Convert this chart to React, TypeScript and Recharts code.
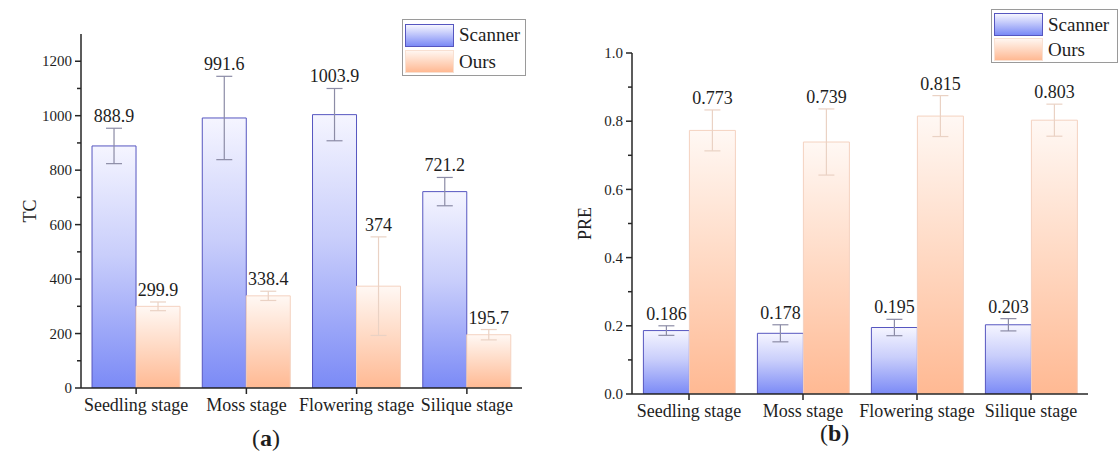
import React from "react";
import { BarChart, Bar, XAxis, YAxis, ErrorBar, LabelList } from "recharts";

const STAGES = ["Seedling stage", "Moss stage", "Flowering stage", "Silique stage"];

const TC_SCANNER = [888.9, 991.6, 1003.9, 721.2];
const TC_SCANNER_ERR = [65, 153, 96, 52];
const TC_OURS = [299.9, 338.4, 374, 195.7];
const TC_OURS_ERR = [16, 17, 181, 19];
const TC_TICKS = [0, 100, 200, 300, 400, 500, 600, 700, 800, 900, 1000, 1100, 1200];

const PRE_SCANNER = [0.186, 0.178, 0.195, 0.203];
const PRE_SCANNER_ERR = [0.014, 0.025, 0.024, 0.018];
const PRE_OURS = [0.773, 0.739, 0.815, 0.803];
const PRE_OURS_ERR = [0.06, 0.097, 0.06, 0.047];
const PRE_TICKS = [0, 0.1, 0.2, 0.3, 0.4, 0.5, 0.6, 0.7, 0.8, 0.9, 1.0];

const FONT = '"Liberation Serif", "Times New Roman", serif';
const AXIS = "#262626";
const SCANNER_EDGE = "#5656c0";
const OURS_EDGE = "#f4d2c0";

const tcRows = STAGES.map((stage, i) => ({
  stage,
  scanner: TC_SCANNER[i],
  scannerErr: TC_SCANNER_ERR[i],
  ours: TC_OURS[i],
  oursErr: TC_OURS_ERR[i],
}));

const preRows = STAGES.map((stage, i) => ({
  stage,
  scanner: PRE_SCANNER[i],
  scannerErr: PRE_SCANNER_ERR[i],
  ours: PRE_OURS[i],
  oursErr: PRE_OURS_ERR[i],
}));

// label sits just above the top of the error bar
const valueLabel = (errs: number[]) => (props: any) => {
  const vb = props.viewBox || props;
  const { x, y, width, height } = vb;
  const v = Number(props.value);
  const pxPerUnit = v ? height / v : 0;
  const top = y - errs[props.index] * pxPerUnit;
  return (
    <text
      x={x + width / 2}
      y={top - 6}
      textAnchor="middle"
      fontFamily={FONT}
      fontSize={18}
      fill="#1e1e1e"
    >
      {String(props.value)}
    </text>
  );
};

const yTick = (fmt: (v: number) => string) => (props: any) => {
  const { x, y, payload, index } = props;
  const major = index % 2 === 0;
  return (
    <g>
      <line x1={x - (major ? 6 : 4)} x2={x} y1={y} y2={y} stroke={AXIS} strokeWidth={1.5} />
      {major && (
        <text x={x - 9} y={y} dy="0.35em" textAnchor="end" fontFamily={FONT} fontSize={15} fill="#1e1e1e">
          {fmt(payload.value)}
        </text>
      )}
    </g>
  );
};

function Gradients({ id }: { id: string }) {
  return (
    <defs>
      <linearGradient id={`${id}-scanner`} x1="0" y1="0" x2="0" y2="1">
        <stop offset="0%" stopColor="#f5f5ff" />
        <stop offset="45%" stopColor="#c9cefb" />
        <stop offset="100%" stopColor="#7b8af6" />
      </linearGradient>
      <linearGradient id={`${id}-ours`} x1="0" y1="0" x2="0" y2="1">
        <stop offset="0%" stopColor="#fff8f4" />
        <stop offset="45%" stopColor="#ffdcc8" />
        <stop offset="100%" stopColor="#ffb993" />
      </linearGradient>
    </defs>
  );
}

interface PanelProps {
  id: string;
  rows: any[];
  domain: [number, number];
  ticks: number[];
  fmt: (v: number) => string;
  yLabel: string;
  scannerErr: number[];
  oursErr: number[];
  margin: { top: number; right: number; bottom: number; left: number };
  labelOffset: number;
}

function Panel(p: PanelProps) {
  return (
    <BarChart
      width={560}
      height={457}
      data={p.rows}
      margin={p.margin}
      barCategoryGap="10%"
      barGap={0}
    >
      <Gradients id={p.id} />
      <XAxis
        dataKey="stage"
        height={40}
        stroke={AXIS}
        strokeWidth={1.5}
        tickSize={6}
        tickMargin={4}
        tick={{ fontFamily: FONT, fontSize: 18, fill: "#1e1e1e" }}
        interval={0}
      />
      <YAxis
        width={60}
        domain={p.domain}
        ticks={p.ticks}
        allowDataOverflow
        stroke={AXIS}
        strokeWidth={1.5}
        tickLine={false}
        tickSize={0}
        tickMargin={0}
        tick={yTick(p.fmt)}
        label={{
          value: p.yLabel,
          angle: -90,
          position: "insideLeft",
          offset: p.labelOffset,
          style: { textAnchor: "middle", fontFamily: FONT, fontSize: 18, fill: "#1e1e1e" },
        }}
      />
      <Bar
        dataKey="scanner"
        fill={`url(#${p.id}-scanner)`}
        stroke={SCANNER_EDGE}
        strokeWidth={1}
        isAnimationActive={false}
      >
        <ErrorBar dataKey="scannerErr" width={8} stroke="#8c8ca6" strokeWidth={1.2} direction="y" />
        <LabelList dataKey="scanner" content={valueLabel(p.scannerErr)} />
      </Bar>
      <Bar
        dataKey="ours"
        fill={`url(#${p.id}-ours)`}
        stroke={OURS_EDGE}
        strokeWidth={1}
        isAnimationActive={false}
      >
        <ErrorBar dataKey="oursErr" width={8} stroke="#ead2c4" strokeWidth={1.2} direction="y" />
        <LabelList dataKey="ours" content={valueLabel(p.oursErr)} />
      </Bar>
    </BarChart>
  );
}

function LegendBox({ left, top, width, height }: { left: number; top: number; width: number; height: number }) {
  const sw = (bg: string, edge: string) => ({
    width: 49,
    height: 23,
    background: bg,
    border: `1px solid ${edge}`,
    boxSizing: "border-box" as const,
  });
  const row = { display: "flex", alignItems: "center", gap: 5, height: height / 2 - 2 };
  return (
    <div
      style={{
        position: "absolute",
        left,
        top,
        width,
        height,
        border: "1px solid #9a9a9a",
        boxSizing: "border-box",
        padding: "2px 2px",
        fontFamily: FONT,
        fontSize: 19,
        color: "#1e1e1e",
        background: "#fff",
      }}
    >
      <div style={row}>
        <div style={sw("linear-gradient(#f6f6ff, #7b8af6)", SCANNER_EDGE)} />
        <span>Scanner</span>
      </div>
      <div style={row}>
        <div style={sw("linear-gradient(#fff6f0, #ffb993)", "#f8e0d2")} />
        <span>Ours</span>
      </div>
    </div>
  );
}

export default function App() {
  return (
    <div style={{ position: "absolute", left: 0, top: 0, width: 1120, height: 457, background: "#fff", overflow: "hidden" }}>
      <div style={{ position: "absolute", left: 0, top: 0 }}>
        <Panel
          id="tc"
          rows={tcRows}
          domain={[0, 1300]}
          ticks={TC_TICKS}
          fmt={(v) => String(v)}
          yLabel="TC"
          scannerErr={TC_SCANNER_ERR}
          oursErr={TC_OURS_ERR}
          margin={{ top: 34, right: 38, bottom: 29, left: 21 }}
          labelOffset={9}
        />
      </div>
      <div style={{ position: "absolute", left: 560, top: 0 }}>
        <Panel
          id="pre"
          rows={preRows}
          domain={[0, 1]}
          ticks={PRE_TICKS}
          fmt={(v) => v.toFixed(1)}
          yLabel="PRE"
          scannerErr={PRE_SCANNER_ERR}
          oursErr={PRE_OURS_ERR}
          margin={{ top: 53, right: 32, bottom: 23, left: 12 }}
          labelOffset={13}
        />
      </div>
      <LegendBox left={402} top={19} width={124} height={57} />
      <LegendBox left={991} top={9} width={127} height={54} />
      <div style={{ position: "absolute", left: 252, top: 425, fontFamily: FONT, fontSize: 24, color: "#1e1e1e" }}>
        (<b>a</b>)
      </div>
      <div style={{ position: "absolute", left: 820, top: 420, fontFamily: FONT, fontSize: 24, color: "#1e1e1e" }}>
        (<b>b</b>)
      </div>
    </div>
  );
}
